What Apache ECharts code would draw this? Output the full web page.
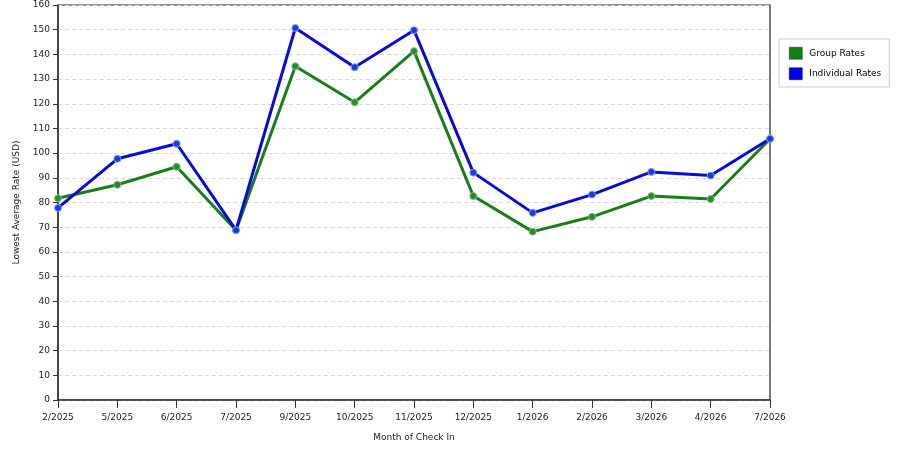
<!DOCTYPE html>
<html>
<head>
<meta charset="utf-8">
<script src="https://cdn.jsdelivr.net/npm/echarts@6/dist/echarts.min.js"></script>
<style>html,body{margin:0;padding:0;background:#fff;}#c{width:900px;height:450px;}</style>
</head>
<body>
<div id="c"></div>
<script>
var categories = ['2/2025','5/2025','6/2025','7/2025','9/2025','10/2025','11/2025','12/2025','1/2026','2/2026','3/2026','4/2026','7/2026'];
var groupRates = [81.7, 87.2, 94.5, 68.8, 135.2, 120.6, 141.3, 82.6, 68.2, 74.2, 82.6, 81.4, 105.7];
var individualRates = [77.8, 97.7, 103.8, 68.8, 150.7, 134.8, 149.8, 92.1, 75.8, 83.2, 92.4, 90.9, 105.8];
var yTicks = {min: 0, max: 160, interval: 10};

var chart = echarts.init(document.getElementById('c'));
var font = 'DejaVu Sans';
chart.setOption({
  animation: false,
  backgroundColor: '#fff',
  grid: {left: 58, right: 130, top: 5, bottom: 50, show: true, borderColor: '#222', borderWidth: 1.2, backgroundColor: 'transparent'},
  legend: {
    orient: 'vertical', left: 779, top: 39,
    padding: [8, 8, 7, 10],
    backgroundColor: '#fff', borderColor: '#ccc', borderWidth: 1,
    icon: 'rect', itemWidth: 13, itemHeight: 12, itemGap: 8,
    textStyle: {fontFamily: font, fontSize: 9, color: '#000', padding: [0, 0, 0, 2]},
    data: [
      {name: 'Group Rates', itemStyle: {color: '#137f13', borderColor: '#0a3a0a', borderWidth: 0.5}},
      {name: 'Individual Rates', itemStyle: {color: '#0000f0', borderColor: '#00005a', borderWidth: 0.5}}
    ]
  },
  xAxis: {
    type: 'category', data: categories, boundaryGap: false,
    name: 'Month of Check In', nameLocation: 'middle', nameGap: 33,
    nameTextStyle: {fontFamily: font, fontSize: 9, color: '#222'},
    axisLine: {lineStyle: {color: '#333', width: 1.5}},
    axisTick: {show: true, length: 8, lineStyle: {color: '#333'}, alignWithLabel: true},
    axisLabel: {fontFamily: font, fontSize: 9, color: '#222', margin: 13, interval: 0},
    splitLine: {show: false}
  },
  yAxis: {
    type: 'value', min: yTicks.min, max: yTicks.max, interval: yTicks.interval,
    name: 'Lowest Average Rate (USD)', nameLocation: 'middle', nameGap: 37,
    nameTextStyle: {fontFamily: font, fontSize: 9, color: '#222'},
    axisLine: {show: true, lineStyle: {color: '#333', width: 1.5}},
    axisTick: {show: true, length: 5, lineStyle: {color: '#333'}},
    axisLabel: {fontFamily: font, fontSize: 9, color: '#222', margin: 8},
    splitLine: {show: true, lineStyle: {color: '#d8d8d8', type: [4, 3], width: 1}}
  },
  series: [
    {
      name: 'Group Rates', type: 'line', data: groupRates,
      symbol: 'circle', symbolSize: 7, showAllSymbol: true,
      lineStyle: {color: '#1a7d1a', width: 3},
      itemStyle: {color: '#2a8a2a', borderColor: '#7fbf7f', borderWidth: 1},
      z: 2
    },
    {
      name: 'Individual Rates', type: 'line', data: individualRates,
      symbol: 'circle', symbolSize: 7, showAllSymbol: true,
      lineStyle: {color: '#0a0ad8', width: 3},
      itemStyle: {color: '#1a3ae0', borderColor: '#7f9fff', borderWidth: 1},
      z: 3
    }
  ]
});
</script>
</body>
</html>
